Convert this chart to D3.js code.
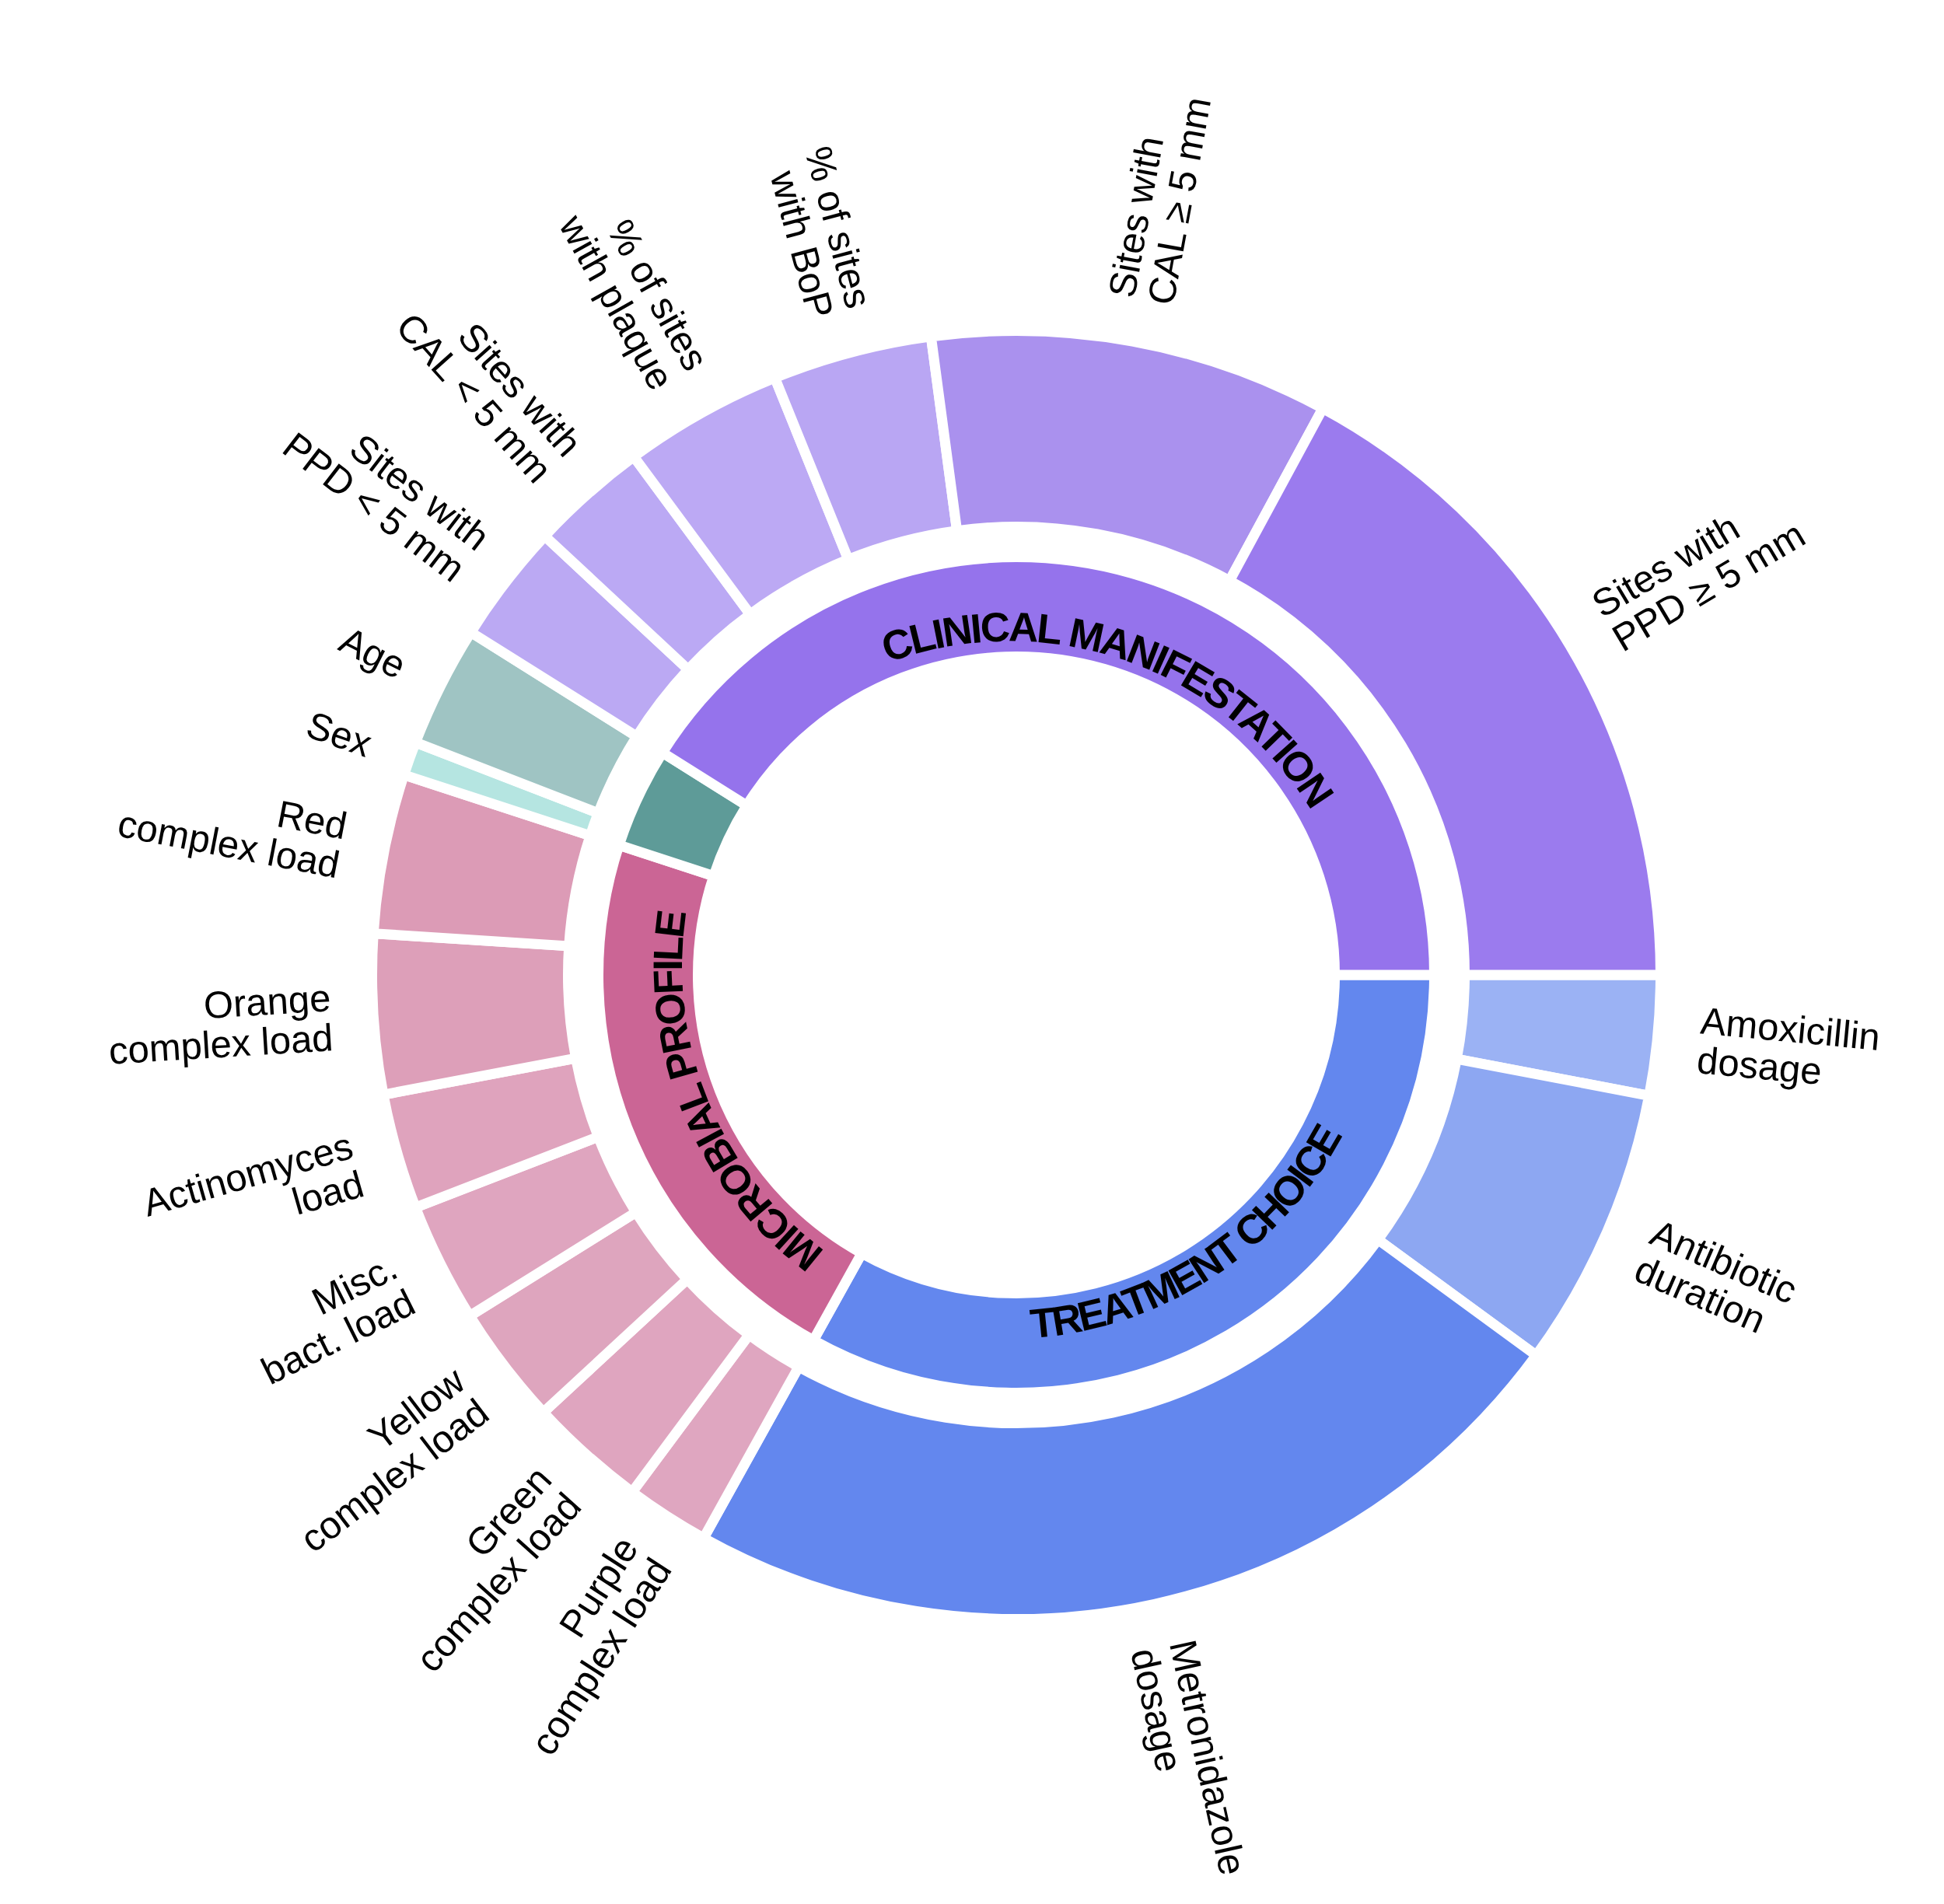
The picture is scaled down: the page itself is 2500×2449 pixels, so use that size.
<!DOCTYPE html>
<html>
<head>
<meta charset="utf-8">
<script src="https://cdn.jsdelivr.net/npm/d3@7"></script>
<style>
  body { margin: 0; background: #fff; }
  text { font-family: "Liberation Sans", Arial, Helvetica, sans-serif; fill: #000; }
</style>
</head>
<body>
<svg id="chart"></svg>
<script>
// categories (inner ring), clockwise from 3 o'clock
const categories = ['Treatment choice', 'Microbial profile', 'Demographics', 'Clinical manifestation'];
const categoryLabels = ['TREATMENT CHOICE', 'MICROBIAL PROFILE', '', 'CLINICAL MANIFESTATION'];

// features (outer ring), same order; "|" splits label lines
const features = [
  'Amoxicillin|dosage', 'Antibiotic|duration', 'Metronidazole|dosage',
  'Purple|complex load', 'Green|complex load', 'Yellow|complex load', 'Misc.|bact. load',
  'Actinomyces|load', 'Orange|complex load', 'Red|complex load',
  'Sex', 'Age',
  'Sites with|PPD < 5 mm', 'Sites with|CAL < 5 mm', '% of sites|with plaque',
  '% of sites|with BoP', 'Sites with|CAL ≥ 5 mm', 'Sites with|PPD ≥ 5 mm'
];
const featureCategory = [
  'Treatment choice', 'Treatment choice', 'Treatment choice',
  'Microbial profile', 'Microbial profile', 'Microbial profile', 'Microbial profile',
  'Microbial profile', 'Microbial profile', 'Microbial profile',
  'Demographics', 'Demographics',
  'Clinical manifestation', 'Clinical manifestation', 'Clinical manifestation',
  'Clinical manifestation', 'Clinical manifestation', 'Clinical manifestation'
];
// relative importance (%)
const importance = [
  3.0, 7.05, 23.0,
  2.1, 2.95, 3.0, 3.0, 2.9, 4.0, 4.0,
  0.85, 3.05,
  3.0, 2.95, 4.0, 4.0, 10.0, 17.1
];

const categoryColor = d3.scaleOrdinal()
  .domain(categories)
  .range(['#6387ee', '#cb6595', '#5e9b98', '#9573ec']);
const featureColor = d3.scaleOrdinal()
  .domain(features)
  .range([
    '#9bb2f4', '#8da7f2', '#6387ee',
    '#dfa6c0', '#dfa5bf', '#dea5be', '#dfa5bf', '#dfa3bd', '#dd9fb9', '#dc9bb6',
    '#b5e5e1', '#9fc4c3',
    '#bba9f3', '#bba9f4', '#bca9f4', '#b9a6f3', '#aa91ee', '#9b7bee'
  ]);

const W = 2500, H = 2449;
const cx = 1307, cy = 1254;
const gap = 13;
const inner = { r0: 416 - gap / 2, r1: 531 + gap / 2 };
const outer = { r0: 583 - gap / 2, r1: 822 + gap / 2 };
const labelR = 882;

const svg = d3.select('#chart')
  .attr('width', W)
  .attr('height', H)
  .attr('viewBox', `0 0 ${W} ${H}`);

svg.append('rect').attr('width', W).attr('height', H).attr('fill', '#fff');

const g = svg.append('g').attr('transform', `translate(${cx},${cy})`);

const rows = features.map((f, i) => ({ name: f, cat: featureCategory[i], value: importance[i] }));
const catRows = categories.map((c, i) => ({
  name: c,
  label: categoryLabels[i],
  value: d3.sum(rows.filter(r => r.cat === c), r => r.value)
}));

const pie = d3.pie()
  .sort(null)
  .value(d => d.value)
  .startAngle(Math.PI / 2)
  .endAngle(Math.PI / 2 + 2 * Math.PI);

const outerArcs = pie(rows);
const innerArcs = pie(catRows);

const arcInner = d3.arc().innerRadius(inner.r0).outerRadius(inner.r1);
const arcOuter = d3.arc().innerRadius(outer.r0).outerRadius(outer.r1);

g.selectAll('path.cat')
  .data(innerArcs)
  .join('path')
    .attr('class', 'cat')
    .attr('d', arcInner)
    .attr('fill', d => categoryColor(d.data.name))
    .attr('stroke', '#fff')
    .attr('stroke-width', gap);

g.selectAll('path.feat')
  .data(outerArcs)
  .join('path')
    .attr('class', 'feat')
    .attr('d', arcOuter)
    .attr('fill', d => featureColor(d.data.name))
    .attr('stroke', '#fff')
    .attr('stroke-width', gap);

// curved category labels
const fontSizeCat = 53;
const midR = (416 + 531) / 2;
const norm = a => ((a % (2 * Math.PI)) + 2 * Math.PI) % (2 * Math.PI);
const pt = (r, a) => [r * Math.sin(a), -r * Math.cos(a)];
const nudge = { 'Clinical manifestation': 3, 'Treatment choice': -2.5, 'Microbial profile': -1 }; // degrees

const defs = svg.append('defs');
innerArcs.forEach((d, i) => {
  if (!d.data.label) return;
  const mid = norm((d.startAngle + d.endAngle) / 2);
  const flip = mid > Math.PI / 2 && mid < Math.PI * 1.1;
  const c = (d.startAngle + d.endAngle) / 2 + (nudge[d.data.name] || 0) * Math.PI / 180;
  const a0 = c - 1.6, a1 = c + 1.6;
  let path;
  if (!flip) {
    const r = midR - fontSizeCat * 0.36;
    const p0 = pt(r, a0), p1 = pt(r, a1);
    path = `M${p0[0]},${p0[1]} A${r},${r} 0 0 1 ${p1[0]},${p1[1]}`;
  } else {
    const r = midR + fontSizeCat * 0.36;
    const p0 = pt(r, a1), p1 = pt(r, a0);
    path = `M${p0[0]},${p0[1]} A${r},${r} 0 0 0 ${p1[0]},${p1[1]}`;
  }
  defs.append('path').attr('id', 'catpath' + i).attr('d', path)
    .attr('transform', `translate(${cx},${cy})`);
  svg.append('text')
    .style('font-size', fontSizeCat + 'px')
    .style('font-weight', 'bold')
    .style('letter-spacing', '-3px')
    .append('textPath')
      .attr('href', '#catpath' + i)
      .attr('startOffset', '50%')
      .attr('text-anchor', 'middle')
      .text(d.data.label);
});

// radial feature labels
const fontSize = 49, lineH = 51;
outerArcs.forEach(d => {
  const mid = norm((d.startAngle + d.endAngle) / 2);
  const deg = mid * 180 / Math.PI;
  const left = mid > Math.PI;
  const rot = left ? deg + 90 : deg - 90;
  const [x, y] = pt(labelR, mid);
  const lines = d.data.name.split('|');
  const t = g.append('text')
    .attr('transform', `translate(${x},${y}) rotate(${rot})`)
    .attr('text-anchor', left ? 'end' : 'start')
    .style('font-size', fontSize + 'px');
  lines.forEach((l, j) => {
    t.append('tspan')
      .attr('x', 0)
      .attr('y', (j - (lines.length - 1) / 2) * lineH)
      .attr('dy', '0.36em')
      .text(l);
  });
});
</script>
</body>
</html>
